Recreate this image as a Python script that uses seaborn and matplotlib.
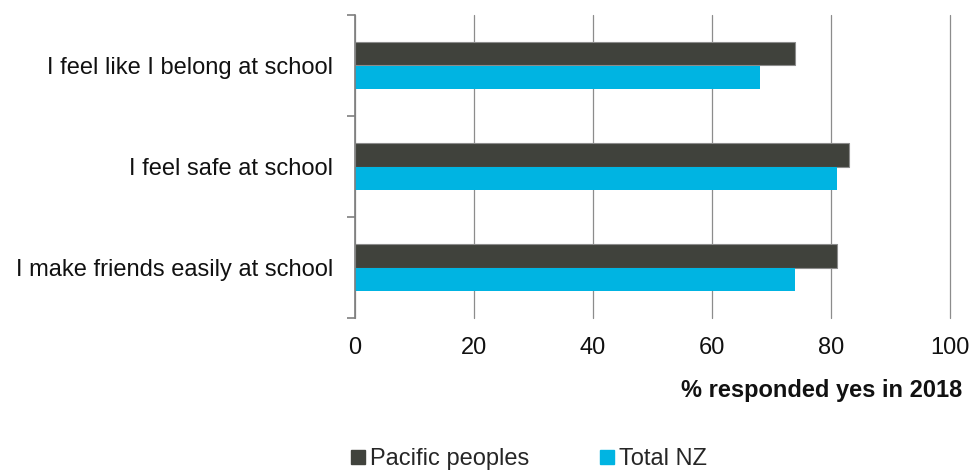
import numpy as np
import pandas as pd
import matplotlib
matplotlib.use("Agg")
import matplotlib.pyplot as plt
import seaborn as sns
from matplotlib.lines import Line2D

sns.set_theme(style="white")
plt.rcParams['font.family'] = ['Liberation Sans', 'DejaVu Sans']

# Data
statements = ["I feel like I belong at school",
              "I feel safe at school",
              "I make friends easily at school"]
pacific = [74, 83, 81]
total_nz = [68, 81, 74]
groups = ["Pacific peoples", "Total NZ"]
colors = ["#40423C", "#00B4E2"]
x_ticks = [0, 20, 40, 60, 80, 100]

df = pd.DataFrame({
    "statement": statements * 2,
    "value": pacific + total_nz,
    "group": [groups[0]] * 3 + [groups[1]] * 3,
})

fs = 17

fig = plt.figure(figsize=(9.73, 4.71), dpi=100)
ax = fig.add_axes([355 / 973, 1 - 318 / 471, (950 - 355) / 973, (318 - 15) / 471])

sns.barplot(data=df, y="statement", x="value", hue="group", hue_order=groups,
            palette=colors, orient="h", width=0.475, ax=ax, legend=False,
            saturation=1, errorbar=None)

# outline on the dark bars
for patch in ax.patches[:3]:
    patch.set_edgecolor("#8C8C8C")
    patch.set_linewidth(0.8)
for patch in ax.patches[3:]:
    patch.set_linewidth(0)

ax.set_xlim(0, 100)
ax.set_ylim(2.5, -0.5)
ax.set_xticks(x_ticks)
ax.set_xticklabels([str(t) for t in x_ticks], fontsize=fs, color="#111111")
ax.tick_params(axis="x", length=0, pad=14)
ax.xaxis.grid(True, color="#8C8C8C", linewidth=0.9)
for gl in ax.get_xgridlines():
    gl.set_clip_on(False)
ax.set_axisbelow(True)

ax.set_yticks(range(len(statements)))
ax.set_yticklabels(statements, fontsize=fs, color="#111111")
ax.tick_params(axis="y", which="major", length=0, pad=16)
ax.set_yticks([-0.5, 0.5, 1.5, 2.5], minor=True)
ax.tick_params(axis="y", which="minor", length=6, width=1.2, color="#7F7F7F", left=True)

ax.set_xlabel("")
ax.set_ylabel("")
for side in ["top", "right", "bottom"]:
    ax.spines[side].set_visible(False)
ax.spines["left"].set_color("#7F7F7F")
ax.spines["left"].set_linewidth(1.2)

fig.text(962 / 973, 1 - 390 / 471, "% responded yes in 2018", ha="right",
         va="center", fontsize=fs, fontweight="bold", color="#111111")

handles = [Line2D([], [], marker="s", linestyle="none", markersize=10,
                  markerfacecolor=c, markeredgecolor=c) for c in colors]
fig.legend(handles, groups, loc="center left", ncol=2,
           bbox_to_anchor=(339 / 973, 1 - 459 / 471), frameon=False,
           fontsize=fs, handletextpad=0.1, columnspacing=2.9,
           handlelength=0.8, borderaxespad=0)

fig.savefig("out.png", dpi=100)
